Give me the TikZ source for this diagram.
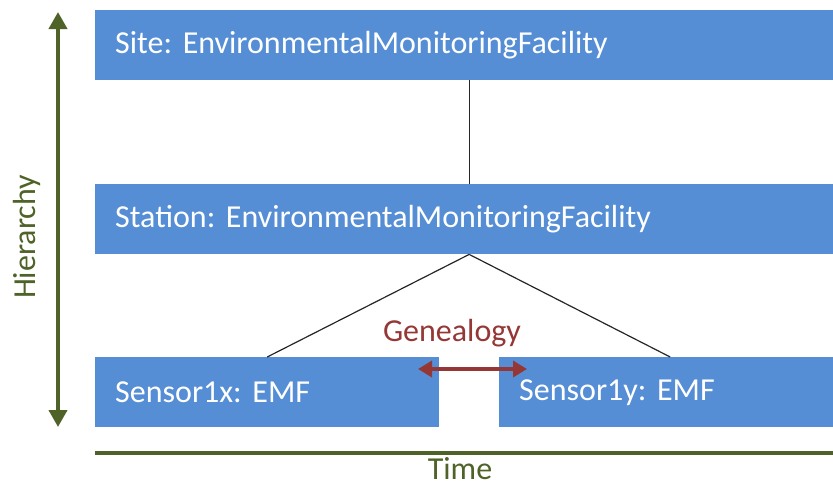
\documentclass[tikz,border=0pt]{standalone}
\usepackage{fontspec}
\setmainfont{Carlito}
\frenchspacing
\usetikzlibrary{arrows.meta}

\definecolor{boxblue}{HTML}{558ED5}
\definecolor{axisgreen}{HTML}{4F6228}
\definecolor{genred}{HTML}{953735}

\tikzset{
  levelbox/.style={fill=boxblue, text=white, anchor=north west, inner xsep=20pt,
    minimum height=70pt, align=left, font=\fontsize{32}{38}\selectfont},
  axislabel/.style={text=axisgreen, font=\fontsize{32}{38}\selectfont},
}

\begin{document}
\begin{tikzpicture}[x=1pt,y=-1pt]
	\useasboundingbox (0,0) rectangle (833,488);

	% levels
	\node[levelbox, text width=698pt] (site) at (95,10) {Site: EnvironmentalMonitoringFacility};
	\node[levelbox, text width=698pt] (station) at (95,184) {Station: EnvironmentalMonitoringFacility};
	\node[levelbox, text width=304pt] (sensorx) at (95,357) {Sensor1x: EMF};
	\node[levelbox, text width=294pt] (sensory) at (499,357) {Sensor1y: EMF};

	\draw[line width=1.2pt, black!85] ([xshift=5pt]site.south) -- ([xshift=5pt]station.north);
	\draw[line width=1.2pt, black!85] ([xshift=5pt]station.south) -- (sensorx.north);
	\draw[line width=1.2pt, black!85] ([xshift=5pt]station.south) -- ([xshift=4pt]sensory.north);

	% genealogy
	\coordinate (gl) at (418,369);
	\coordinate (gr) at (527,369);
	\draw[genred, line width=4pt, {Triangle[width=16pt,length=14pt]}-{Triangle[width=16pt,length=14pt]}] (gl) -- (gr);
	\node[text=genred, font=\fontsize{32}{38}\selectfont, anchor=base] (geneal) at (452,341) {Genealogy};

	% axes
	\coordinate (htop) at (58,12);
	\coordinate (hbot) at (58,427);
	\draw[axisgreen, line width=4pt, {Triangle[width=18pt,length=17pt]}-{Triangle[width=18pt,length=17pt]}] (htop) -- (hbot);
	\node[axislabel, rotate=90] (hier) at (27,237) {Hierarchy};

	\coordinate (tl) at (95,453);
	\coordinate (tr) at (833,453);
	\draw[axisgreen, line width=4pt] (tl) -- (tr);
	\node[axislabel, anchor=base, inner sep=0pt] (time) at (460,479) {Time};
\end{tikzpicture}
\end{document}
